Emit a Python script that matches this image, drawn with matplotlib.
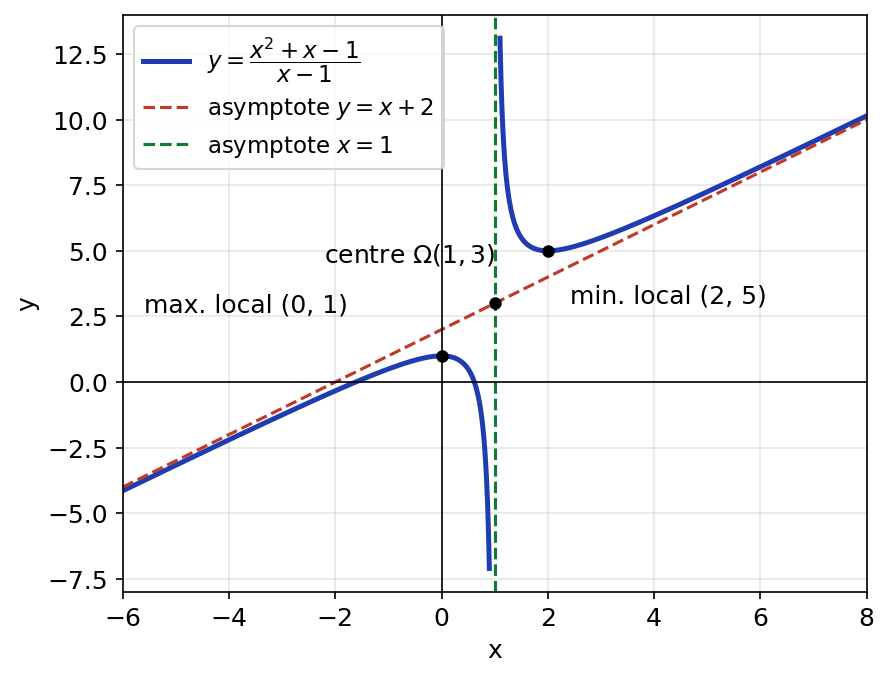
import numpy as np
import matplotlib.pyplot as plt

# branches of the curve (domain cut around the vertical asymptote x = 1)
x_left = np.linspace(-6, 0.9, 400)
x_right = np.linspace(1.1, 8, 400)

# asymptotes
x_asym = [-6, 8]
x_vert = 1

# remarkable points
pt_x = [0, 1, 2]
pt_y = [1, 3, 5]


def f(x):
    return (x**2 + x - 1) / (x - 1)


plt.rcParams['font.size'] = 12

fig, ax = plt.subplots(figsize=(6.4, 5))

ax.plot(x_left, f(x_left), color='#1f3db0', lw=2.4,
        label=r'$y=\dfrac{x^2+x-1}{x-1}$')
ax.plot(x_right, f(x_right), color='#1f3db0', lw=2.4)
ax.plot(x_asym, [v + 2 for v in x_asym], '--', color='#c0392b', lw=1.5,
        label=r'asymptote $y=x+2$')
ax.axvline(x_vert, ls='--', color='#127a36', lw=1.5, label=r'asymptote $x=1$')

ax.axhline(0, color='black', lw=0.8)
ax.axvline(0, color='black', lw=0.8)

ax.plot(pt_x, pt_y, 'o', color='black', ms=5, zorder=5)

ax.text(-5.6, 2.65, 'max. local (0, 1)')
ax.text(2.42, 3.0, 'min. local (2, 5)')
ax.text(1.02, 4.58, r'centre $\Omega(1, 3)$', ha='right')

ax.set_xlim(-6, 8)
ax.set_ylim(-8, 14)
ax.set_xlabel('x')
ax.set_ylabel('y')
ax.grid(True, alpha=0.3)
ax.legend(loc='upper left', fontsize=11)

plt.savefig('out.png', dpi=150, bbox_inches='tight')
